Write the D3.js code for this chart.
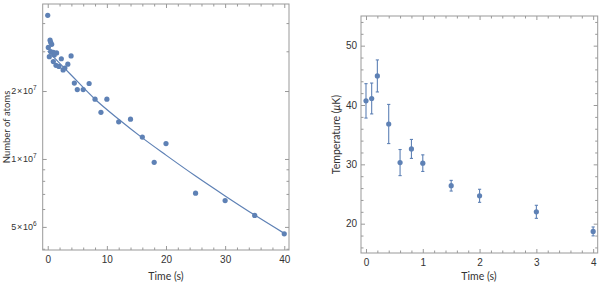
<!DOCTYPE html>
<html><head><meta charset="utf-8">
<script src="https://cdn.jsdelivr.net/npm/d3@7"></script>
<style>
body{margin:0;background:#fff;}
svg{display:block;font-family:Lato,"Open Sans","DejaVu Sans",sans-serif;}
.tick text{fill:#333;font-size:10px;}
</style></head>
<body>
<svg id="c" width="601" height="283"></svg>
<script>
// Left panel: atom number vs time
const atomTimes = [0,0.4,0.5,0.1,0.67,0.5,0.95,1.5,0.27,1.1,0.95,1.4,1.9,2.3,2.6,2.9,3.4,3.95,4.5,5,6,7,8,10,9,12,14,16,18,20,25,30,35,40];
const atomCounts = [4.33e7,3.36e7,3.29e7,3.12e7,3.22e7,2.99e7,2.97e7,2.95e7,2.84e7,2.89e7,2.70e7,2.60e7,2.57e7,2.78e7,2.48e7,2.53e7,2.63e7,2.86e7,2.17e7,2.03e7,2.03e7,2.16e7,1.84e7,1.84e7,1.61e7,1.46e7,1.50e7,1.25e7,9.66e6,1.17e7,7.05e6,6.54e6,5.62e6,4.66e6];
const fitTimes = [0,2,4,8,12,16,20,25,30,35,40];
const fitCounts = [3.01e7,2.66e7,2.35e7,1.84e7,1.50e7,1.24e7,1.04e7,8.4e6,6.86e6,5.64e6,4.68e6];
const atomMajorTicks = [5e6,1e7,2e7];
const atomMinorTicks = [4e6,6e6,7e6,8e6,9e6,3e7,4e7];
const leftXMajor = [0,10,20,30,40];

// Right panel: temperature vs time
const tempTimes = [0,0.1,0.2,0.4,0.6,0.8,1,1.5,2,3,4];
const tempValues = [40.7,41.1,44.9,36.8,30.3,32.6,30.2,26.4,24.7,22.0,18.7];
const tempErrors = [2.9,2.6,2.7,3.3,2.2,1.6,1.4,0.9,1.1,1.1,0.75];
const rightXMajor = [0,1,2,3,4];
const rightYMajor = [20,30,40,50];

const blue = "#5E81B5", frameCol = "#999";
const svg = d3.select("#c");

function styleAxis(g){
  g.selectAll(".tick line").attr("stroke", frameCol);
}
function drawFrame(x0,x1,y0,y1){
  svg.append("rect").attr("x",x0).attr("y",y0).attr("width",x1-x0).attr("height",y1-y0)
    .attr("fill","none").attr("stroke",frameCol).attr("stroke-width",1);
}
function addAxes(xs, ys, xMaj, xMin, yMaj, yMin, yFmt, yPad){
  const [xa,xb] = xs.range(); const [ya,yb] = ys.range();
  svg.append("g").attr("transform",`translate(0,${ya})`)
    .call(d3.axisBottom(xs).tickValues(xMaj).tickSizeInner(-4).tickSizeOuter(0).tickPadding(6).tickFormat(d3.format("d")));
  svg.append("g").attr("transform",`translate(0,${ya})`)
    .call(d3.axisBottom(xs).tickValues(xMin).tickSizeInner(-2.5).tickSizeOuter(0).tickFormat(""));
  svg.append("g").attr("transform",`translate(0,${yb})`)
    .call(d3.axisTop(xs).tickValues(xMaj).tickSizeInner(-4).tickSizeOuter(0).tickFormat(""));
  svg.append("g").attr("transform",`translate(0,${yb})`)
    .call(d3.axisTop(xs).tickValues(xMin).tickSizeInner(-2.5).tickSizeOuter(0).tickFormat(""));
  const left = svg.append("g").attr("transform",`translate(${xa},0)`)
    .call(d3.axisLeft(ys).tickValues(yMaj).tickSizeInner(-4).tickSizeOuter(0).tickPadding(yPad).tickFormat(yFmt));
  svg.append("g").attr("transform",`translate(${xa},0)`)
    .call(d3.axisLeft(ys).tickValues(yMin).tickSizeInner(-2.5).tickSizeOuter(0).tickFormat(""));
  svg.append("g").attr("transform",`translate(${xb},0)`)
    .call(d3.axisRight(ys).tickValues(yMaj).tickSizeInner(-4).tickSizeOuter(0).tickFormat(""));
  svg.append("g").attr("transform",`translate(${xb},0)`)
    .call(d3.axisRight(ys).tickValues(yMin).tickSizeInner(-2.5).tickSizeOuter(0).tickFormat(""));
  svg.selectAll("g").call(styleAxis);
  svg.selectAll(".domain").remove();
  drawFrame(xa,xb,yb,ya);
  return left;
}

// ---------- Left panel ----------
const x1 = d3.scaleLinear().domain([-0.85,40.8]).range([42.7,289]);
const y1 = d3.scaleLog().domain([3.95e6,4.86e7]).range([250,4]);
const xMinorL = d3.range(0,41,2).filter(d=>d%10!==0);
const leftAx = addAxes(x1,y1,leftXMajor,xMinorL,atomMajorTicks,atomMinorTicks,d=>String(d),6);
leftAx.selectAll(".tick text").each(function(d){
  const e = Math.floor(Math.log10(d)+1e-9), m = Math.round(d/Math.pow(10,e));
  const t = d3.select(this).text(null);
  t.append("tspan").text(m+"\u200a\u00d7\u200a10");
  t.append("tspan").attr("dy","-4").attr("font-size","6.5px").text(e);
});
leftAx.selectAll(".tick text").style("font-size","9px");
const line = d3.line().x((d,i)=>x1(fitTimes[i])).y((d,i)=>y1(fitCounts[i])).curve(d3.curveMonotoneX);
svg.append("path").datum(fitTimes).attr("d",line).attr("fill","none").attr("stroke",blue).attr("stroke-width",1.2);
svg.append("g").selectAll("circle").data(atomTimes).join("circle")
  .attr("cx",(d)=>x1(d)).attr("cy",(d,i)=>y1(atomCounts[i])).attr("r",2.6).attr("fill",blue);
svg.append("text").attr("x",166).attr("y",280).attr("text-anchor","middle")
  .attr("font-size","10.5px").attr("fill","#333").text("Time (s)");
svg.append("text").attr("transform","translate(9.5,127) rotate(-90)").attr("text-anchor","middle")
  .attr("font-size","9.5px").attr("fill","#333").text("Number of atoms");

// ---------- Right panel ----------
const x2 = d3.scaleLinear().domain([-0.088,4.08]).range([361,597.7]);
const y2 = d3.scaleLinear().domain([15.06,55]).range([253,16]);
const xMinorR = d3.range(0,4.05,0.2).map(d=>+d.toFixed(1)).filter(d=>Math.abs(d-Math.round(d))>0.01);
const yMinorR = d3.range(16,55,2).filter(d=>d%10!==0);
addAxes(x2,y2,rightXMajor,xMinorR,rightYMajor,yMinorR,d3.format("d"),4);
const eb = svg.append("g").attr("stroke",blue).attr("stroke-width",1.1);
tempTimes.forEach((t,i)=>{
  const cx = x2(t), top = y2(tempValues[i]+tempErrors[i]), bot = y2(tempValues[i]-tempErrors[i]);
  eb.append("line").attr("x1",cx).attr("x2",cx).attr("y1",top).attr("y2",bot);
  eb.append("line").attr("x1",cx-1.6).attr("x2",cx+1.6).attr("y1",top).attr("y2",top);
  eb.append("line").attr("x1",cx-1.6).attr("x2",cx+1.6).attr("y1",bot).attr("y2",bot);
});
svg.append("g").selectAll("circle").data(tempTimes).join("circle")
  .attr("cx",d=>x2(d)).attr("cy",(d,i)=>y2(tempValues[i])).attr("r",2.6).attr("fill",blue);
svg.append("text").attr("x",479).attr("y",280).attr("text-anchor","middle")
  .attr("font-size","10.5px").attr("fill","#333").text("Time (s)");
const tt = svg.append("text").attr("transform","translate(340,134.5) rotate(-90)").attr("text-anchor","middle")
  .attr("font-size","10.5px").attr("fill","#333");
tt.append("tspan").text("Temperature (");
tt.append("tspan").attr("font-style","italic").text("\u03bc");
tt.append("tspan").text("K)");
</script>
</body></html>
